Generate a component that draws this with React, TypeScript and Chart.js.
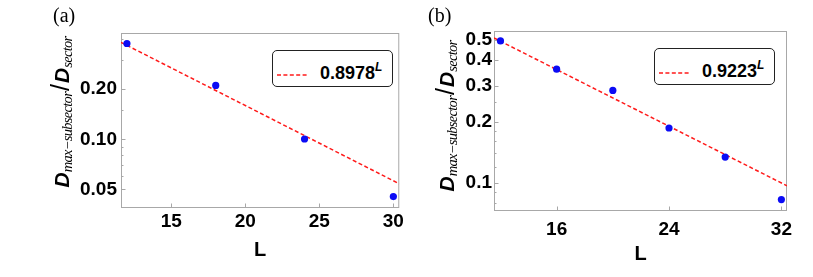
import React, { useEffect, useRef } from "react";
import { Chart, registerables } from "chart.js";

Chart.register(...registerables);

// ---------- Panel (a) data ----------
const sizesA = [12, 18, 24, 30];
const ratiosA = [0.377, 0.211, 0.1004, 0.0452];
const fitXA = [11.6, 30.4];
const fitYA = [0.383, 0.054];
const xRangeA = [11.6, 30.4];
const yRangeA = [0.0386, 0.436];
const xTicksA = [15, 20, 25, 30];
const yTicksA = [0.05, 0.1, 0.2];
const yTickLabelsA = ["0.05", "0.10", "0.20"];
const yMinorA = [0.06, 0.07, 0.08, 0.09, 0.15, 0.3, 0.4];
const legendBaseA = "0.8978";

// ---------- Panel (b) data ----------
const sizesB = [12, 16, 20, 24, 28, 32];
const ratiosB = [0.496, 0.361, 0.284, 0.186, 0.134, 0.083];
const fitXB = [11.54, 32.4];
const fitYB = [0.513, 0.097];
const xRangeB = [11.54, 32.4];
const yRangeB = [0.073, 0.555];
const xTicksB = [16, 24, 32];
const yTicksB = [0.1, 0.2, 0.3, 0.4, 0.5];
const yTickLabelsB = ["0.1", "0.2", "0.3", "0.4", "0.5"];
const yMinorB = [0.08, 0.09, 0.12, 0.14, 0.16, 0.18, 0.25];
const legendBaseB = "0.9223";

const SANS = "'Liberation Sans', Arial, sans-serif";
const SERIF = "'Liberation Serif', 'Times New Roman', serif";

type PanelProps = {
  sizes: number[];
  ratios: number[];
  fitX: number[];
  fitY: number[];
  xRange: number[];
  yRange: number[];
  xTicks: number[];
  yTicks: number[];
  yTickLabels: string[];
  yMinor: number[];
  width: number;
  height: number;
  yWidth: number;
  xHeight: number;
  padTop: number;
  padRight: number;
  xTickPad: number;
  yTickPad: number;
  titlePadBottom: number;
};

function Panel(p: PanelProps) {
  const ref = useRef<HTMLCanvasElement | null>(null);
  useEffect(() => {
    if (!ref.current) return;
    const framePlugin = {
      id: "frameTicks",
      beforeDatasetsDraw(chart: any) {
        const { ctx, chartArea, scales } = chart;
        const { left, right, top, bottom } = chartArea;
        ctx.save();
        ctx.strokeStyle = "#a8a8a8";
        ctx.lineWidth = 1;
        ctx.strokeRect(left + 0.5, top + 0.5, right - left - 1, bottom - top - 1);
        ctx.beginPath();
        for (const v of p.yTicks) {
          const y = Math.round(scales.y.getPixelForValue(v)) + 0.5;
          ctx.moveTo(left, y);
          ctx.lineTo(left + 4.5, y);
        }
        for (const v of p.yMinor) {
          const y = Math.round(scales.y.getPixelForValue(v)) + 0.5;
          ctx.moveTo(left, y);
          ctx.lineTo(left + 2.5, y);
        }
        for (const v of p.xTicks) {
          const x = Math.round(scales.x.getPixelForValue(v)) + 0.5;
          ctx.moveTo(x, bottom);
          ctx.lineTo(x, bottom - 4.5);
        }
        ctx.stroke();
        ctx.restore();
      },
    };
    const tickFont = { family: SANS, weight: "bold" as const, size: 19 };
    const chart = new Chart(ref.current, {
      type: "scatter",
      data: {
        datasets: [
          {
            type: "line" as const,
            data: p.fitX.map((x, i) => ({ x, y: p.fitY[i] })),
            borderColor: "#ff1a1a",
            borderWidth: 1.5,
            borderDash: [4, 2.5],
            pointRadius: 0,
            fill: false,
            order: 1,
          } as any,
          {
            data: p.sizes.map((x, i) => ({ x, y: p.ratios[i] })),
            backgroundColor: "#0b0bf5",
            borderColor: "#0b0bf5",
            pointRadius: 3.6,
            borderWidth: 0,
            order: 0,
          },
        ],
      },
      options: {
        animation: false,
        responsive: false,
        maintainAspectRatio: false,
        layout: { padding: { left: 0, right: p.padRight, top: p.padTop, bottom: 0 } },
        plugins: { legend: { display: false }, tooltip: { enabled: false } },
        scales: {
          x: {
            type: "linear",
            min: p.xRange[0],
            max: p.xRange[1],
            afterBuildTicks: (s: any) => {
              s.ticks = p.xTicks.map((v) => ({ value: v }));
            },
            afterFit: (s: any) => {
              s.height = p.xHeight;
            },
            grid: { display: false, drawTicks: false },
            border: { display: false },
            ticks: {
              font: tickFont,
              color: "#000",
              padding: p.xTickPad,
              maxRotation: 0,
              autoSkip: false,
              callback: (v: any) => String(v),
            },
            title: {
              display: true,
              text: "L",
              color: "#000",
              font: { family: SANS, weight: "bold", size: 20 },
              padding: { top: 0, bottom: p.titlePadBottom },
            },
          },
          y: {
            type: "logarithmic",
            min: p.yRange[0],
            max: p.yRange[1],
            afterBuildTicks: (s: any) => {
              s.ticks = p.yTicks.map((v) => ({ value: v }));
            },
            afterFit: (s: any) => {
              s.width = p.yWidth;
            },
            grid: { display: false, drawTicks: false },
            border: { display: false },
            ticks: {
              font: tickFont,
              color: "#000",
              padding: p.yTickPad,
              autoSkip: false,
              callback: (_v: any, i: number) => p.yTickLabels[i],
            },
          },
        },
      } as any,
      plugins: [framePlugin],
    });
    return () => chart.destroy();
  }, []);
  return (
    <canvas
      ref={ref}
      width={p.width}
      height={p.height}
      style={{ display: "block", width: p.width, height: p.height }}
    />
  );
}

function YTitle({ cx, cy }: { cx: number; cy: number }) {
  const D = { fontFamily: SANS, fontWeight: "bold" as const, fontStyle: "italic", fontSize: 21 };
  const sub = {
    fontFamily: SERIF,
    fontStyle: "italic",
    fontSize: 14.5,
    letterSpacing: "-0.7px",
    verticalAlign: "-3px",
  };
  return (
    <div
      style={{
        position: "absolute",
        left: cx,
        top: cy,
        transform: "translate(-50%, -50%) rotate(-90deg)",
        whiteSpace: "nowrap",
        lineHeight: 1,
        color: "#000",
      }}
    >
      <span style={D}>D</span>
      <span style={sub}>max−subsector</span>
      <span style={{ fontFamily: SANS, fontSize: 25, margin: "0 1px" }}>/</span>
      <span style={D}>D</span>
      <span style={sub}>sector</span>
    </div>
  );
}

function LegendBox({ left, top, base }: { left: number; top: number; base: string }) {
  return (
    <div
      style={{
        position: "absolute",
        left,
        top,
        width: 119,
        height: 35,
        border: "1px solid #222",
        borderRadius: 5,
        background: "#fff",
      }}
    >
      <svg width={34} height={6} style={{ position: "absolute", left: 3, top: 21 }}>
        <line x1={1} y1={3} x2={33} y2={3} stroke="#ff1a1a" strokeWidth={1.6} strokeDasharray="4 2.4" />
      </svg>
      <div
        style={{
          position: "absolute",
          left: 47,
          top: 13,
          fontFamily: SANS,
          fontWeight: "bold",
          fontSize: 18,
          lineHeight: "18px",
          whiteSpace: "nowrap",
          color: "#000",
        }}
      >
        {base}
        <span style={{ fontSize: 12, fontStyle: "italic", position: "relative", top: -8 }}>L</span>
      </div>
    </div>
  );
}

function PanelLabel({ left, top, text }: { left: number; top: number; text: string }) {
  return (
    <div
      style={{
        position: "absolute",
        left,
        top,
        fontFamily: SERIF,
        fontSize: 20,
        lineHeight: 1,
        color: "#000",
      }}
    >
      {text}
    </div>
  );
}

export default function App() {
  return (
    <div
      style={{
        position: "fixed",
        left: 0,
        top: 0,
        width: 813,
        height: 277,
        background: "#fff",
        overflow: "hidden",
      }}
    >
      <div style={{ position: "absolute", left: 0, top: 0 }}>
        <Panel
          sizes={sizesA}
          ratios={ratiosA}
          fitX={fitXA}
          fitY={fitYA}
          xRange={xRangeA}
          yRange={yRangeA}
          xTicks={xTicksA}
          yTicks={yTicksA}
          yTickLabels={yTickLabelsA}
          yMinor={yMinorA}
          width={406}
          height={277}
          yWidth={121}
          xHeight={69}
          padTop={33}
          padRight={3}
          xTickPad={2}
          yTickPad={4}
          titlePadBottom={15}
        />
      </div>
      <div style={{ position: "absolute", left: 406, top: 0 }}>
        <Panel
          sizes={sizesB}
          ratios={ratiosB}
          fitX={fitXB}
          fitY={fitYB}
          xRange={xRangeB}
          yRange={yRangeB}
          xTicks={xTicksB}
          yTicks={yTicksB}
          yTickLabels={yTickLabelsB}
          yMinor={yMinorB}
          width={407}
          height={277}
          yWidth={88}
          xHeight={66}
          padTop={31}
          padRight={26}
          xTickPad={7}
          yTickPad={2}
          titlePadBottom={11}
        />
      </div>
      <YTitle cx={61} cy={112} />
      <YTitle cx={446} cy={116} />
      <LegendBox left={272} top={50} base={legendBaseA} />
      <LegendBox left={654} top={48} base={legendBaseB} />
      <PanelLabel left={53} top={5} text="(a)" />
      <PanelLabel left={428} top={5} text="(b)" />
    </div>
  );
}
